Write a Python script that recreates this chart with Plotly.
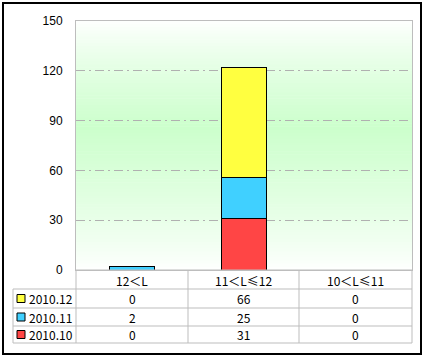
import plotly.graph_objects as go

# ---- data ----
categories = ["12＜L", "11＜L≤12", "10＜L≤11"]
series_names = ["2010.12", "2010.11", "2010.10"]
values_2010_12 = [0, 66, 0]
values_2010_11 = [2, 25, 0]
values_2010_10 = [0, 31, 0]
y_ticks = [0, 30, 60, 90, 120, 150]

table_rows = [values_2010_12, values_2010_11, values_2010_10]
colors = ["#ffff40", "#40d0ff", "#ff4545"]

W, H = 425, 358
L, R, T, B = 76, 412, 21, 270  # plot area in px


def px(x):
    return (x - L) / (R - L)


def py(y):
    return (B - y) / (B - T)


fig = go.Figure()
# stack bottom to top: 2010.10, 2010.11, 2010.12
for name, vals, col in reversed(list(zip(series_names, table_rows, colors))):
    fig.add_trace(go.Bar(
        x=categories, y=[v if v != 0 else None for v in vals], name=name,
        marker=dict(color=col, line=dict(color="black", width=1)),
        width=0.41,
    ))

shapes = []
# background gradient (white -> light green -> white)
n = 80
peak = 0.57
for i in range(n):
    f0 = i / n
    f1 = (i + 1) / n
    fm = (f0 + f1) / 2
    if fm <= peak:
        t = fm / peak
    else:
        t = (1 - fm) / (1 - peak)
    t = max(0.0, min(1.0, t)) ** 0.8
    r = round(255 - t * (255 - 0xcc))
    g = 255
    b = round(255 - t * (255 - 0xcc))
    shapes.append(dict(type="rect", xref="paper", yref="paper", x0=0, x1=1,
                       y0=f0, y1=f1 + 0.002, fillcolor=f"rgb({r},{g},{b})",
                       line=dict(width=0), layer="below"))

gray = "#bdbdbd"
col_edges = [L, 188, 299, R]
row_edges = [270, 289, 308, 326, 343]
table_left = 13
# horizontal table lines
shapes.append(dict(type="line", xref="paper", yref="paper", x0=px(L), x1=px(R),
                   y0=py(270), y1=py(270), line=dict(color=gray, width=1)))
for yy in row_edges[1:]:
    shapes.append(dict(type="line", xref="paper", yref="paper", x0=px(table_left), x1=px(R),
                       y0=py(yy), y1=py(yy), line=dict(color=gray, width=1)))
# vertical table lines
for xx in col_edges:
    shapes.append(dict(type="line", xref="paper", yref="paper", x0=px(xx), x1=px(xx),
                       y0=py(270), y1=py(343), line=dict(color=gray, width=1)))
shapes.append(dict(type="line", xref="paper", yref="paper", x0=px(table_left), x1=px(table_left),
                   y0=py(289), y1=py(343), line=dict(color=gray, width=1)))
# outer border
shapes.append(dict(type="rect", xref="paper", yref="paper", x0=px(3), x1=px(421),
                   y0=py(3), y1=py(354), line=dict(color="black", width=2)))

annotations = []
font = dict(family="SimSun, Noto Sans CJK SC", size=12, color="black")
centers = [(col_edges[i] + col_edges[i + 1]) / 2 for i in range(3)]
for c, cat in zip(centers, categories):
    annotations.append(dict(xref="paper", yref="paper", x=px(c), y=py(280), text=cat,
                            showarrow=False, font=font, xanchor="center", yanchor="middle"))
for ri, (name, vals, col) in enumerate(zip(series_names, table_rows, colors)):
    yc = (row_edges[ri + 1] + row_edges[ri + 2]) / 2
    shapes.append(dict(type="rect", xref="paper", yref="paper", x0=px(17), x1=px(25),
                       y0=py(yc - 4), y1=py(yc + 4), fillcolor=col,
                       line=dict(color="black", width=1)))
    annotations.append(dict(xref="paper", yref="paper", x=px(27), y=py(yc), text=name,
                            showarrow=False, font=font, xanchor="left", yanchor="middle"))
    for c, v in zip(centers, vals):
        annotations.append(dict(xref="paper", yref="paper", x=px(c), y=py(yc), text=str(v),
                                showarrow=False, font=font, xanchor="center", yanchor="middle"))

fig.update_layout(
    width=W, height=H,
    margin=dict(l=L, r=W - R, t=T, b=H - B),
    paper_bgcolor="white", plot_bgcolor="rgba(0,0,0,0)",
    barmode="stack", showlegend=False, bargap=0.5,
    shapes=shapes, annotations=annotations,
    font=dict(family="Liberation Sans, Arial", size=12, color="black"),
)
fig.update_xaxes(showticklabels=False, showgrid=False, showline=True, mirror=True,
                 linecolor=gray, linewidth=1, zeroline=False)
fig.update_yaxes(range=[0, 150], tickvals=y_ticks, showgrid=True, gridcolor="#b0b0b0",
                 griddash="9px,4px,2px,4px", showline=True, mirror=True, linecolor=gray,
                 zeroline=False, ticks="", ticklabelstandoff=10,
                 tickfont=dict(family="Liberation Sans, Arial", size=12))

fig.write_html("out.html", config={"displayModeBar": False},
               post_script="document.body.style.margin='0';document.body.style.overflow='hidden';")
